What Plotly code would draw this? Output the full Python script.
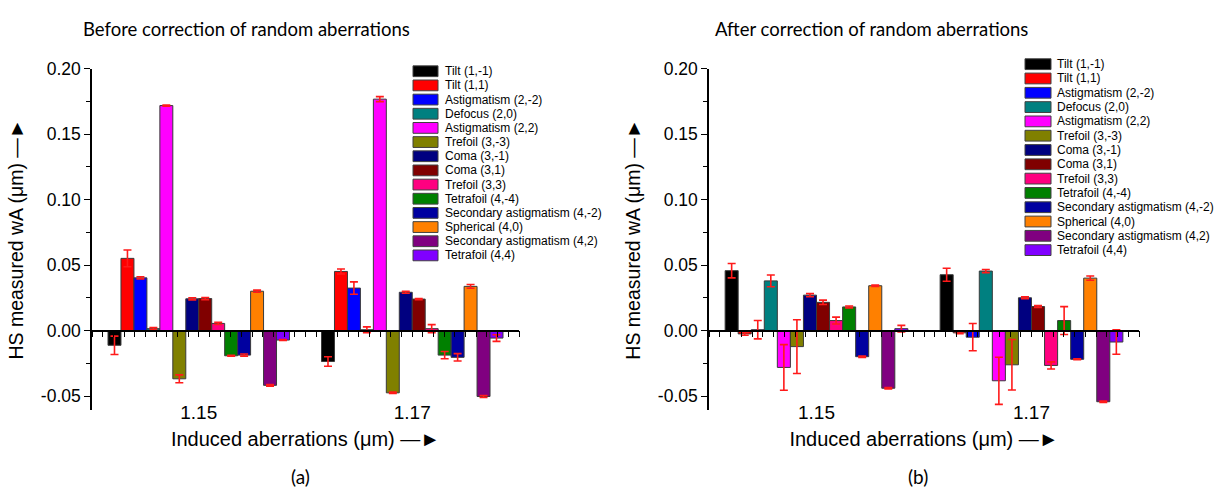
import plotly.graph_objects as go

# ---------------- data ----------------
aberrations = ["Tilt (1,-1)", "Tilt (1,1)", "Astigmatism (2,-2)", "Defocus (2,0)",
               "Astigmatism (2,2)", "Trefoil (3,-3)", "Coma (3,-1)", "Coma (3,1)",
               "Trefoil (3,3)", "Tetrafoil (4,-4)", "Secondary astigmatism (4,-2)",
               "Spherical (4,0)", "Secondary astigmatism (4,2)", "Tetrafoil (4,4)"]
colors = ["#000000", "#FF0000", "#0000FF", "#008080", "#FF00FF", "#808000", "#000080",
          "#800000", "#FF0080", "#008000", "#0000A0", "#FF8000", "#800080", "#8000FF"]

induced = [1.15, 1.17]
induced_labels = ["1.15", "1.17"]

# (a) before correction
before_115 = [-0.0112, 0.0552, 0.0403, 0.0015, 0.1719, -0.0368, 0.0243, 0.0245,
              0.0055, -0.0192, -0.0187, 0.0301, -0.0418, -0.0072]
before_115_err = [0.0070, 0.0064, 0.0008, 0.0008, 0.0004, 0.0030, 0.0008, 0.0008,
                  0.0008, 0.0003, 0.0008, 0.0008, 0.0006, 0.0003]
before_117 = [-0.0236, 0.0452, 0.0325, 0.0007, 0.1768, -0.0475, 0.0293, 0.0241,
              0.0015, -0.0187, -0.0204, 0.0338, -0.0503, -0.0057]
before_117_err = [0.0036, 0.0019, 0.0047, 0.0022, 0.0019, 0.0005, 0.0008, 0.0004,
                  0.0031, 0.0028, 0.0028, 0.0014, 0.0008, 0.0025]

# (b) after correction
after_115 = [0.0458, -0.0025, 0.0007, 0.0380, -0.0281, -0.0122, 0.0271, 0.0216,
             0.0077, 0.0181, -0.0199, 0.0343, -0.0440, 0.0015]
after_115_err = [0.0055, 0.0010, 0.0070, 0.0045, 0.0174, 0.0205, 0.0012, 0.0017,
                 0.0026, 0.0007, 0.0005, 0.0005, 0.0005, 0.0025]
after_117 = [0.0427, -0.0017, -0.0050, 0.0455, -0.0383, -0.0261, 0.0251, 0.0184,
             -0.0266, 0.0077, -0.0219, 0.0401, -0.0543, -0.0087]
after_117_err = [0.0050, 0.0007, 0.0104, 0.0012, 0.0180, 0.0193, 0.0007, 0.0007,
                 0.0027, 0.0106, 0.0004, 0.0016, 0.0005, 0.0093]

y_tickvals = [-0.05, 0.0, 0.05, 0.10, 0.15, 0.20]
y_ticktext = ["-0.05", "0.00", "0.05", "0.10", "0.15", "0.20"]
y_minor_tickvals = [-0.025, 0.025, 0.075, 0.125, 0.175]

titles = ["Before correction of random aberrations", "After correction of random aberrations"]
panel_tags = ["(a)", "(b)"]
x_title = "Induced aberrations (\u03bcm) \u2014\u25ba"
y_title = "HS measured wA (\u03bcm) \u2014\u25ba"

# ---------------- layout geometry ----------------
W, H = 1216, 492
Y_RANGE = [-0.0604, 0.2]
X_RANGE = [1.14, 1.18]
YDOM = [1 - 408 / H, 1 - 60 / H]
XDOMS = [[92 / W, 519 / W], [709 / W, 1139 / W]]
zero_pos = YDOM[0] + (0 - Y_RANGE[0]) / (Y_RANGE[1] - Y_RANGE[0]) * (YDOM[1] - YDOM[0])

ARIAL = "Liberation Sans, Arial, DejaVu Sans, sans-serif"
CALI = "Lato, Open Sans, sans-serif"

fig = go.Figure()
panels = [
    (before_115, before_115_err, before_117, before_117_err, "x", "y", "x3"),
    (after_115, after_115_err, after_117, after_117_err, "x2", "y2", "x4"),
]
for v115, e115, v117, e117, xa, ya, xz in panels:
    for i, name in enumerate(aberrations):
        fig.add_trace(go.Bar(
            x=induced, y=[v115[i], v117[i]], name=name,
            error_y=dict(type="data", array=[e115[i], e117[i]], color="#FF1A1A",
                         thickness=1.6, width=4),
            marker=dict(color=colors[i], line=dict(color="#3a3a3a", width=1)),
            xaxis=xa, yaxis=ya, showlegend=False))
    # empty helper trace so the zero-line tick axis gets drawn
    fig.add_trace(go.Scatter(x=[], y=[], xaxis=xz, yaxis=ya, showlegend=False,
                             hoverinfo="skip", mode="markers"))

layout = dict(
    width=W, height=H, margin=dict(l=0, r=0, t=0, b=0),
    paper_bgcolor="white", plot_bgcolor="white",
    barmode="group", bargap=0.15, bargroupgap=0,
    showlegend=False,
)

for k in range(2):
    xs = "" if k == 0 else "2"
    ys = "" if k == 0 else "2"
    ov = str(3 + k)
    layout["xaxis" + xs] = dict(
        domain=XDOMS[k], range=X_RANGE, anchor="y" + ys,
        tickmode="array", tickvals=induced, ticktext=induced_labels,
        ticks="", showline=False, showgrid=False, zeroline=False,
        tickfont=dict(family=ARIAL, size=19, color="black"),
        ticklabelstandoff=-11,
        title=dict(text=x_title, font=dict(family=ARIAL, size=20, color="black"), standoff=10),
    )
    layout["xaxis" + ov] = dict(
        overlaying="x" + xs, anchor="free", position=zero_pos, range=X_RANGE,
        showline=True, linecolor="black", linewidth=1.5,
        ticks="outside", tickmode="linear", tick0=1.14, dtick=0.001,
        ticklen=6, tickwidth=1.4, tickcolor="black",
        showticklabels=False, showgrid=False, zeroline=False, layer="above traces",
    )
    layout["yaxis" + ys] = dict(
        domain=YDOM, range=Y_RANGE, anchor="x" + xs,
        showline=True, linecolor="black", linewidth=1.5,
        ticks="outside", ticklen=6, tickwidth=1.3, tickcolor="black",
        tickmode="array", tickvals=y_tickvals, ticktext=y_ticktext,
        minor=dict(ticks="outside", tickmode="array", tickvals=y_minor_tickvals,
                   ticklen=4, tickwidth=1.3, tickcolor="black"),
        showgrid=False, zeroline=False,
        tickfont=dict(family=ARIAL, size=17.5, color="black"),
        title=dict(text=y_title, font=dict(family=ARIAL, size=19.5, color="black"), standoff=12),
    )

fig.update_layout(**layout)

# ---------------- custom compact legends ----------------
legend_geo = [  # swatch x0, x1, text x, first row centre y, row step (px)
    (413, 438, 443, 62.5, 14.46),
    (1025, 1051, 1055, 55.3, 14.6),
]
shapes, annotations = [], []
for sx0, sx1, tx, cy0, step in legend_geo:
    for i, name in enumerate(aberrations):
        cy = cy0 + i * step
        shapes.append(dict(type="rect", xref="paper", yref="paper",
                           x0=sx0 / W, x1=sx1 / W, y0=1 - (cy + 5.5) / H, y1=1 - (cy - 5.5) / H,
                           fillcolor=colors[i], line=dict(color="#404040", width=1)))
        annotations.append(dict(xref="paper", yref="paper", x=tx / W, y=1 - cy / H,
                                xanchor="left", yanchor="middle", showarrow=False, text=name,
                                font=dict(family=ARIAL, size=12, color="black")))

title_x = [246, 871]
tag_x = [300, 918]
for k in range(2):
    annotations.append(dict(xref="paper", yref="paper", x=title_x[k] / W, y=1 - 19 / H,
                            xanchor="center", yanchor="middle", showarrow=False, text=titles[k],
                            font=dict(family=CALI, size=18.5, color="black")))
    annotations.append(dict(xref="paper", yref="paper", x=tag_x[k] / W, y=1 - 476 / H,
                            xanchor="center", yanchor="middle", showarrow=False, text=panel_tags[k],
                            font=dict(family=CALI, size=19, color="black")))

fig.update_layout(shapes=shapes, annotations=annotations)
fig.write_html("out.html")
